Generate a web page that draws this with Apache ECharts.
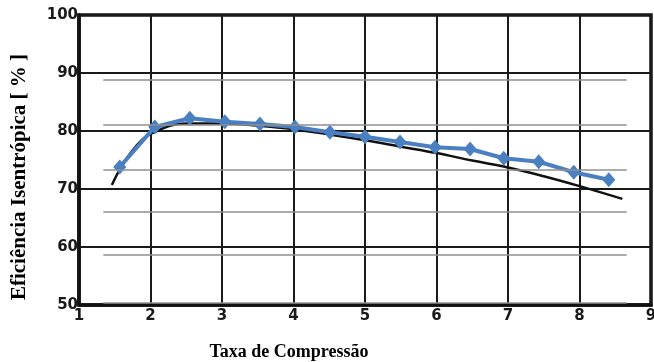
<!DOCTYPE html>
<html><head><meta charset="utf-8">
<script src="https://cdn.jsdelivr.net/npm/echarts@6/dist/echarts.min.js"></script>
<style>html,body{margin:0;padding:0;background:#fff}#c{width:654px;height:362px}</style>
</head><body><div id="c"></div>
<script>
// Blue series (measured points)
const blueX = [1.57, 2.06, 2.55, 3.04, 3.53, 4.02, 4.51, 5.00, 5.49, 5.98, 6.47, 6.94, 7.43, 7.92, 8.41];
const blueY = [73.8, 80.7, 82.2, 81.6, 81.2, 80.7, 79.8, 79.0, 78.1, 77.2, 76.9, 75.3, 74.7, 72.9, 71.6];
// Black reference curve
const blackX = [1.46, 1.6, 1.8, 2.0, 2.5, 3.0, 3.5, 4.0, 4.5, 5.0, 5.5, 6.0, 6.5, 7.0, 7.5, 8.0, 8.6];
const blackY = [70.7, 74.0, 77.4, 79.5, 81.3, 81.3, 80.9, 80.3, 79.4, 78.4, 77.3, 76.2, 74.9, 73.7, 72.2, 70.5, 68.3];
// Faint gray horizontal lines (scan artefacts)
const grayLevels = [88.8, 81.1, 73.4, 66.1, 58.6, 50.4];
const grayFrom = 1.34, grayTo = 8.66;
const xTicks = [1, 2, 3, 4, 5, 6, 7, 8, 9];
const yTicks = [50, 60, 70, 80, 90, 100];

const chart = echarts.init(document.getElementById('c'));
const labelFont = {color:'#1a1a1a', fontFamily:'DejaVu Sans', fontWeight:'bold', fontSize:15};
chart.setOption({
  animation:false,
  grid:{left:79, right:3, top:15, bottom:57, show:true, borderColor:'#111', borderWidth:3.5,
    backgroundColor:'transparent', outerBoundsMode:'none', containLabel:false},
  xAxis:{type:'value', min:xTicks[0], max:xTicks[xTicks.length-1], interval:1,
    axisLine:{show:true, lineStyle:{color:'#111', width:3.5}},
    axisTick:{show:false},
    axisLabel:Object.assign({margin:4}, labelFont),
    splitLine:{show:true, lineStyle:{color:'#1a1a1a', width:2}},
    name:'Taxa de Compressão', nameLocation:'middle', nameGap:38,
    nameTextStyle:{fontFamily:'Liberation Serif, Times New Roman', fontWeight:'bold', fontSize:18, color:'#000', padding:[0,152,0,0]}
  },
  yAxis:{type:'value', min:yTicks[0], max:yTicks[yTicks.length-1], interval:10,
    axisLine:{show:true, lineStyle:{color:'#111', width:3.5}},
    axisTick:{show:false},
    axisLabel:Object.assign({margin:1}, labelFont),
    splitLine:{show:true, lineStyle:{color:'#1a1a1a', width:2}},
    name:'Eficiência Isentrópica [ % ]', nameLocation:'middle', nameGap:49, nameRotate:90,
    nameTextStyle:{fontFamily:'Liberation Serif, Times New Roman', fontWeight:'bold', fontSize:21, color:'#000', padding:[0,34,0,0]}
  },
  series:[
    {type:'line', data:[], silent:true,
      markLine:{symbol:'none', silent:true, label:{show:false},
        lineStyle:{color:'#8f8f8f', width:1.5, type:'solid'},
        data:grayLevels.map(v=>[{coord:[grayFrom,v]},{coord:[grayTo,v]}])}
    },
    {type:'line', data:blackX.map((x,i)=>[x,blackY[i]]), smooth:0.4, symbol:'none',
      lineStyle:{color:'#111', width:2.5}, z:3},
    {type:'line', data:blueX.map((x,i)=>[x,blueY[i]]), symbol:'diamond', symbolSize:[13,15],
      lineStyle:{color:'#4a7fc1', width:4}, itemStyle:{color:'#4a7fc1'}, z:4}
  ]
});
</script></body></html>
